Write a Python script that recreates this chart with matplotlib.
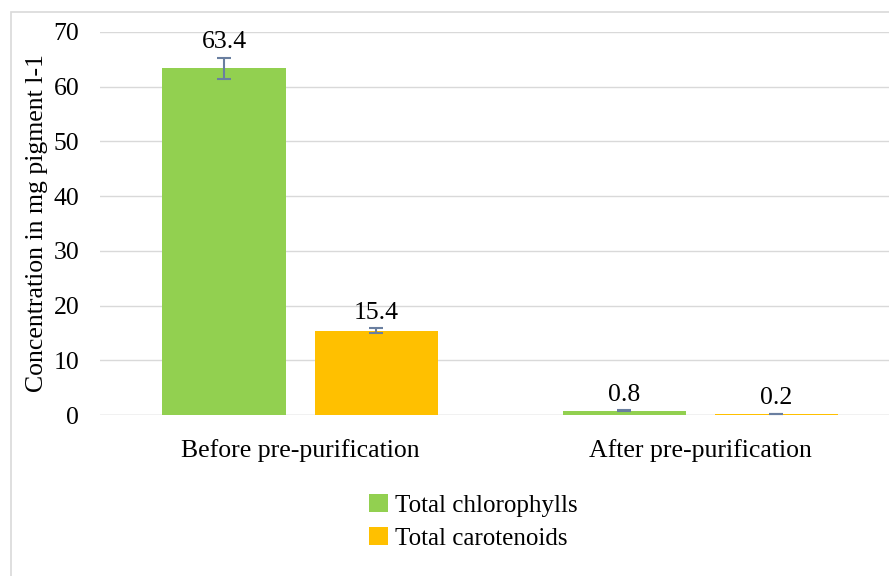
import matplotlib.pyplot as plt
import numpy as np

plt.rcParams['font.family'] = ['Liberation Serif', 'DejaVu Serif']

categories = ['Before pre-purification', 'After pre-purification']
chlorophylls = [63.4, 0.8]
chlorophylls_err = [1.9, 0.1]
carotenoids = [15.4, 0.2]
carotenoids_err = [0.5, 0.05]

fs = 18.5

fig = plt.figure(figsize=(8.89, 5.76), dpi=100)
# chart border like the Excel chart area
fig.patches.append(plt.Rectangle((11 / 889, -0.01), 1.0, 1 - 12 / 576 + 0.01,
                                 transform=fig.transFigure, fill=False,
                                 edgecolor='#D9D9D9', linewidth=1.2))

ax = fig.add_axes([100 / 889, 1 - 415 / 576, 789 / 889, 383 / 576])
x = np.arange(len(categories))
w = 0.3075
off = 0.19

ekw = dict(ecolor='#6A7FA0', capsize=5, elinewidth=1.5, capthick=1.5)
ax.bar(x - off, chlorophylls, w, color='#92D050', label='Total chlorophylls',
       yerr=chlorophylls_err, error_kw=ekw)
ax.bar(x + off, carotenoids, w, color='#FFC000', label='Total carotenoids',
       yerr=carotenoids_err, error_kw=ekw)

for i in range(len(categories)):
    ax.text(x[i] - off, chlorophylls[i] + chlorophylls_err[i] + 0.8, f'{chlorophylls[i]}',
            ha='center', va='bottom', fontsize=fs)
    ax.text(x[i] + off, carotenoids[i] + carotenoids_err[i] + 0.8, f'{carotenoids[i]}',
            ha='center', va='bottom', fontsize=fs)

ax.set_xlim(-0.5, 1.4725)
ax.set_ylim(0, 70)
ax.set_yticks(range(0, 71, 10))
ax.set_xticks(x)
ax.set_xticklabels(categories, fontsize=fs)
ax.tick_params(axis='y', labelsize=fs, length=0, pad=15)
ax.tick_params(axis='x', length=0, pad=17)
ax.grid(axis='y', color='#D9D9D9', linewidth=1)
ax.set_axisbelow(True)
for s in ax.spines.values():
    s.set_visible(False)
ax.axhline(0, color='#D9D9D9', linewidth=1, zorder=0)
ax.set_ylabel('Concentration in mg pigment l-1', fontsize=fs, labelpad=4)

ax.legend(loc='upper left', bbox_to_anchor=(369 / 889, 1 - 494 / 576), bbox_transform=fig.transFigure,
          frameon=False, fontsize=18, handlelength=0.75, handleheight=0.75, handletextpad=0.3,
          labelspacing=0.4, borderpad=0, borderaxespad=0)

fig.savefig('out.png', dpi=100)
